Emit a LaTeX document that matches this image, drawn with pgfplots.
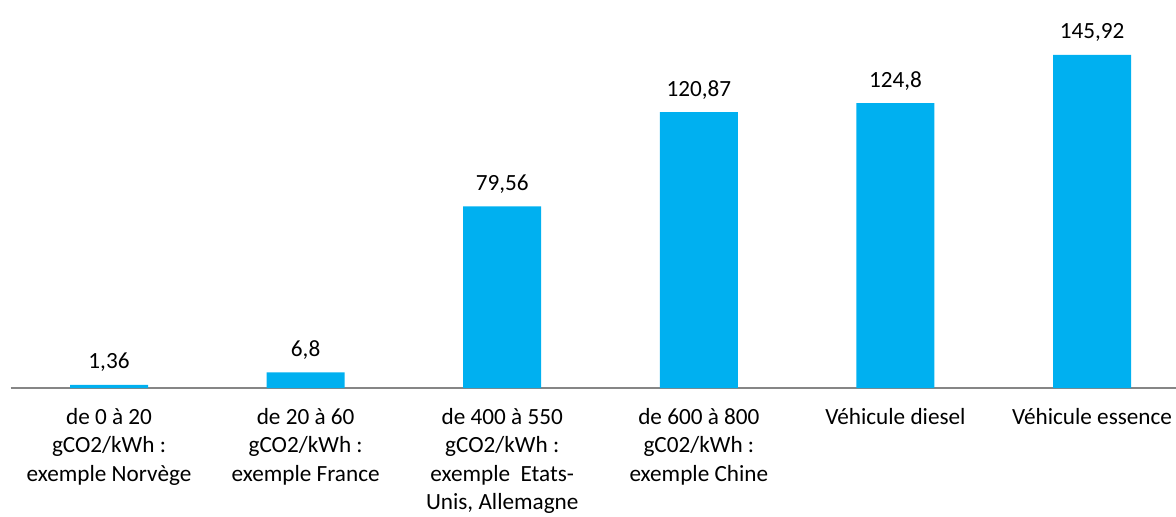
\documentclass[border=0pt]{standalone}
\usepackage{pgfplots}
\pgfplotsset{compat=1.18}
\usepackage{fontspec}
\setmainfont{Carlito}
\definecolor{barblue}{HTML}{00B0F0}
\definecolor{axgray}{HTML}{868686}
\begin{document}
\begin{tikzpicture}
\useasboundingbox (-5.35pt,-64pt) rectangle (582.65pt,194pt);
\begin{axis}[
  scale only axis, width=582.65pt, height=194pt,
  xmin=-0.5, xmax=5.427, ymin=0, ymax=170,
  hide y axis,
  axis x line*=bottom,
  x axis line style={draw=axgray, line width=1pt},
  xtick={0,1,2,3,4,5},
  major tick length=0pt,
  xticklabels={
    {de 0 à 20\\gCO2/kWh :\\exemple Norvège},
    {de 20 à 60\\gCO2/kWh :\\exemple France},
    {de 400 à 550\\gCO2/kWh :\\exemple\ \ Etats-\\Unis, Allemagne},
    {de 600 à 800\\gC02/kWh :\\exemple Chine},
    {Véhicule diesel},
    {Véhicule essence}},
  xticklabel style={font=\fontsize{11.6pt}{14.25pt}\selectfont, align=center, anchor=north, text=black, yshift=-6.5pt},
  ybar, bar width=39pt,
  nodes near coords,
  point meta=explicit symbolic,
  nodes near coords style={font=\fontsize{11.6pt}{14.25pt}\selectfont, text=black, yshift=3pt},
  clip=false,
]
\addplot[fill=barblue, draw=none] table[x=x, y=y, meta=lab] {
x y lab
0 1.36 1,36
1 6.8 6,8
2 79.56 79,56
3 120.87 120,87
4 124.8 124,8
5 145.92 145,92
};
\end{axis}
\end{tikzpicture}
\end{document}
